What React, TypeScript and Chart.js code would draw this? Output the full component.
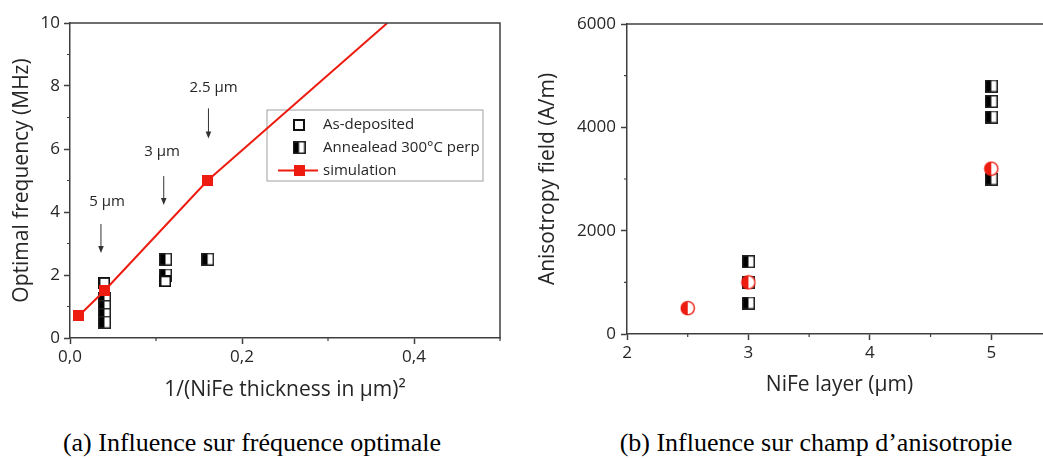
import React, { useEffect, useRef } from 'react';
import { Chart, registerables } from 'chart.js';
Chart.register(...registerables);

// ---------- Left chart data: optimal frequency vs 1/(thickness)^2 ----------
const simX = [0.01, 0.04, 0.16, 0.369];
const simY = [0.7, 1.5, 5.0, 10];
const simMarker = [true, true, true, false];
const asDepX = [0.04, 0.111];
const asDepY = [1.75, 1.8];
const annealX = [0.04, 0.04, 0.04, 0.04, 0.111, 0.111, 0.16];
const annealY = [1.25, 1.0, 0.75, 0.5, 2.5, 2.0, 2.5];
const leftXTicks = [0, 0.2, 0.4];
const leftXMinor = [0.1, 0.3, 0.5];
const leftYTicks = [0, 2, 4, 6, 8, 10];
const leftYMinor = [1, 3, 5, 7, 9];
const thicknessLabels = ['5 µm', '3 µm', '2.5 µm'];
const labelX = [0.043, 0.107, 0.167];
const labelY = [4.32, 5.9, 7.95];
const arrowX = [0.036, 0.109, 0.161];
const arrowTopY = [3.62, 5.14, 7.29];
const arrowBottomY = [2.7, 4.22, 6.33];
const legendLabels = ['As-deposited', 'Annealead 300°C perp', 'simulation'];

// ---------- Right chart data: anisotropy field vs NiFe layer ----------
const layerMeas = [3, 3, 3, 5, 5, 5, 5];
const fieldMeas = [1400, 1000, 600, 4800, 4500, 4200, 3000];
const layerSim = [2.5, 3, 5];
const fieldSim = [500, 1000, 3200];
const rightXTicks = [2, 3, 4, 5];
const rightXMinor = [2.5, 3.5, 4.5, 5.5];
const rightYTicks = [0, 2000, 4000, 6000];
const rightYMinor = [1000, 3000, 5000];

const RED = '#ee1c10';
const AXIS = '#3f3f3f';
const TEXT = '#262626';
const FONT = "'Open Sans', 'DejaVu Sans', sans-serif";

function makeCanvas(w: number, h: number, draw: (ctx: CanvasRenderingContext2D) => void) {
  const c = document.createElement('canvas');
  c.width = w;
  c.height = h;
  const ctx = c.getContext('2d')!;
  draw(ctx);
  return c;
}

function makeMarkers() {
  const hollowSq = makeCanvas(12, 12, (ctx) => {
    ctx.fillStyle = '#fff';
    ctx.fillRect(0, 0, 12, 12);
    ctx.strokeStyle = '#111';
    ctx.lineWidth = 2;
    ctx.strokeRect(1, 1, 10, 10);
  });
  const halfSq = makeCanvas(13, 13, (ctx) => {
    ctx.fillStyle = '#fff';
    ctx.fillRect(0, 0, 13, 13);
    ctx.fillStyle = '#000';
    ctx.fillRect(0, 0, 6.5, 13);
    ctx.strokeStyle = '#222';
    ctx.lineWidth = 1.5;
    ctx.strokeRect(0.75, 0.75, 11.5, 11.5);
  });
  const redSq = makeCanvas(11, 11, (ctx) => {
    ctx.fillStyle = RED;
    ctx.fillRect(0, 0, 11, 11);
  });
  const redHalfCircle = makeCanvas(16, 16, (ctx) => {
    const c = 8, r = 6.6;
    ctx.fillStyle = '#fff';
    ctx.beginPath();
    ctx.arc(c, c, r, 0, Math.PI * 2);
    ctx.fill();
    ctx.fillStyle = RED;
    ctx.beginPath();
    ctx.arc(c, c, r, Math.PI / 2, Math.PI * 1.5);
    ctx.closePath();
    ctx.fill();
    ctx.strokeStyle = RED;
    ctx.lineWidth = 1.4;
    ctx.beginPath();
    ctx.arc(c, c, r, 0, Math.PI * 2);
    ctx.stroke();
  });
  return { hollowSq, halfSq, redSq, redHalfCircle };
}

function minorTicksPlugin(xMinor: number[], yMinor: number[], drawRight: boolean) {
  return {
    id: 'frameAndMinor',
    afterDraw(chart: any) {
      const { ctx, chartArea: a, scales } = chart;
      ctx.save();
      ctx.strokeStyle = AXIS;
      ctx.lineWidth = 1.5;
      ctx.beginPath();
      ctx.moveTo(a.left, a.top);
      ctx.lineTo(a.right, a.top);
      if (drawRight) {
        ctx.lineTo(a.right, a.bottom);
      }
      ctx.stroke();
      ctx.lineWidth = 1.2;
      ctx.beginPath();
      xMinor.forEach((v) => {
        const px = scales.x.getPixelForValue(v);
        ctx.moveTo(px, a.bottom);
        ctx.lineTo(px, a.bottom + 3);
      });
      yMinor.forEach((v) => {
        const py = scales.y.getPixelForValue(v);
        ctx.moveTo(a.left, py);
        ctx.lineTo(a.left - 3, py);
      });
      ctx.stroke();
      ctx.restore();
    },
  };
}

function LeftChart({ markers }: { markers: any }) {
  const ref = useRef<HTMLCanvasElement | null>(null);
  useEffect(() => {
    if (!ref.current) return;
    const { hollowSq, halfSq, redSq } = markers;
    const annotPlugin = {
      id: 'annot',
      beforeDatasetsDraw(chart: any) {
        const { ctx, chartArea: a } = chart;
        ctx.save();
        ctx.strokeStyle = '#a0a0a0';
        ctx.lineWidth = 1;
        const lx = a.left + 197, ly = a.top + 87, lw = 216, lh = 71;
        ctx.strokeRect(lx, ly, lw, lh);
        ctx.font = `15px ${FONT}`;
        ctx.fillStyle = TEXT;
        ctx.textBaseline = 'middle';
        ctx.textAlign = 'left';
        const rows = [ly + 15, ly + 37.5, ly + 60.5];
        const mx = lx + 32;
        ctx.drawImage(hollowSq, mx - 6, rows[0] - 6);
        ctx.drawImage(halfSq, mx - 6.5, rows[1] - 6.5);
        ctx.strokeStyle = RED;
        ctx.lineWidth = 2;
        ctx.beginPath();
        ctx.moveTo(mx - 21, rows[2]);
        ctx.lineTo(mx + 19, rows[2]);
        ctx.stroke();
        ctx.drawImage(redSq, mx - 5.5, rows[2] - 5.5);
        legendLabels.forEach((t, i) => ctx.fillText(t, lx + 56, rows[i]));
        ctx.restore();
      },
      afterDatasetsDraw(chart: any) {
        const { ctx, scales } = chart;
        ctx.save();
        ctx.font = `15px ${FONT}`;
        ctx.textAlign = 'center';
        ctx.textBaseline = 'middle';
        thicknessLabels.forEach((t, i) => {
          ctx.fillStyle = TEXT;
          ctx.fillText(t, scales.x.getPixelForValue(labelX[i]), scales.y.getPixelForValue(labelY[i]));
          const ax = scales.x.getPixelForValue(arrowX[i]);
          const y0 = scales.y.getPixelForValue(arrowTopY[i]);
          const y1 = scales.y.getPixelForValue(arrowBottomY[i]);
          ctx.strokeStyle = '#333';
          ctx.lineWidth = 1;
          ctx.beginPath();
          ctx.moveTo(ax, y0);
          ctx.lineTo(ax, y1 - 4);
          ctx.stroke();
          ctx.fillStyle = '#333';
          ctx.beginPath();
          ctx.moveTo(ax - 2.8, y1 - 7);
          ctx.lineTo(ax + 2.8, y1 - 7);
          ctx.lineTo(ax, y1);
          ctx.closePath();
          ctx.fill();
        });
        ctx.restore();
      },
    };
    const chart = new Chart(ref.current, {
      type: 'scatter',
      data: {
        datasets: [
          {
            label: 'simulation',
            data: simX.map((x, i) => ({ x, y: simY[i] })),
            showLine: true,
            borderColor: RED,
            borderWidth: 2,
            pointStyle: redSq as any,
            pointRadius: simMarker.map((m) => (m ? 6 : 0)),
          },
          {
            label: 'As-deposited',
            data: asDepX.map((x, i) => ({ x, y: asDepY[i] })),
            pointStyle: hollowSq as any,
            pointRadius: 6,
          },
          {
            label: 'Annealead 300°C perp',
            data: annealX.map((x, i) => ({ x, y: annealY[i] })),
            pointStyle: halfSq as any,
            pointRadius: 6,
          },
        ],
      },
      options: {
        animation: false,
        responsive: false,
        layout: { padding: { left: 0, top: 23, right: 20, bottom: 0 } },
        plugins: { legend: { display: false }, tooltip: { enabled: false } },
        scales: {
          x: {
            type: 'linear',
            min: 0,
            max: 0.5,
            afterBuildTicks: (s: any) => {
              s.ticks = leftXTicks.map((v) => ({ value: v }));
            },
            afterFit: (s: any) => {
              s.height = 72;
            },
            ticks: {
              color: TEXT,
              font: { family: FONT, size: 17 },
              padding: 3,
              maxRotation: 0,
              callback: (v: any) => Number(v).toFixed(1).replace('.', ','),
            },
            grid: { drawOnChartArea: false, drawTicks: true, tickLength: 6, tickColor: AXIS, tickWidth: 1.5 },
            border: { display: true, color: AXIS, width: 1.5 },
            title: {
              display: true,
              text: '1/(NiFe thickness in µm)²',
              color: TEXT,
              font: { family: FONT, size: 21 },
              padding: { top: 0, bottom: 7 },
            },
          },
          y: {
            type: 'linear',
            min: 0,
            max: 10,
            afterBuildTicks: (s: any) => {
              s.ticks = leftYTicks.map((v) => ({ value: v }));
            },
            afterFit: (s: any) => {
              s.width = 70;
            },
            ticks: { color: TEXT, font: { family: FONT, size: 17 }, padding: 4 },
            grid: { drawOnChartArea: false, drawTicks: true, tickLength: 6, tickColor: AXIS, tickWidth: 1.5 },
            border: { display: true, color: AXIS, width: 1.5 },
            title: {
              display: true,
              text: 'Optimal frequency (MHz)',
              color: TEXT,
              font: { family: FONT, size: 21 },
              padding: { top: 9, bottom: 0 },
            },
          },
        },
      },
      plugins: [annotPlugin, minorTicksPlugin(leftXMinor, leftYMinor, true)],
    } as any);
    return () => chart.destroy();
  }, [markers]);
  return (
    <canvas
      ref={ref}
      width={520}
      height={410}
      style={{ position: 'absolute', left: 0, top: 0, width: 520, height: 410 }}
    />
  );
}

function RightChart({ markers }: { markers: any }) {
  const ref = useRef<HTMLCanvasElement | null>(null);
  useEffect(() => {
    if (!ref.current) return;
    const { halfSq, redHalfCircle } = markers;
    const chart = new Chart(ref.current, {
      type: 'scatter',
      data: {
        datasets: [
          {
            label: 'simulation',
            data: layerSim.map((x, i) => ({ x, y: fieldSim[i] })),
            pointStyle: redHalfCircle as any,
            pointRadius: 7,
          },
          {
            label: 'measured',
            data: layerMeas.map((x, i) => ({ x, y: fieldMeas[i] })),
            pointStyle: halfSq as any,
            pointRadius: 6,
          },
        ],
      },
      options: {
        animation: false,
        responsive: false,
        layout: { padding: { left: 0, top: 24, right: 6, bottom: 0 } },
        plugins: { legend: { display: false }, tooltip: { enabled: false } },
        scales: {
          x: {
            type: 'linear',
            min: 2,
            max: 5.5,
            afterBuildTicks: (s: any) => {
              s.ticks = rightXTicks.map((v) => ({ value: v }));
            },
            afterFit: (s: any) => {
              s.height = 76;
            },
            ticks: { color: TEXT, font: { family: FONT, size: 17 }, padding: 3, maxRotation: 0 },
            grid: { drawOnChartArea: false, drawTicks: true, tickLength: 6, tickColor: AXIS, tickWidth: 1.5 },
            border: { display: true, color: AXIS, width: 1.5 },
            title: {
              display: true,
              text: 'NiFe layer (µm)',
              color: TEXT,
              font: { family: FONT, size: 21 },
              padding: { top: 0, bottom: 12 },
            },
          },
          y: {
            type: 'linear',
            min: 0,
            max: 6000,
            afterBuildTicks: (s: any) => {
              s.ticks = rightYTicks.map((v) => ({ value: v }));
            },
            afterFit: (s: any) => {
              s.width = 107;
            },
            ticks: { color: TEXT, font: { family: FONT, size: 17 }, padding: 5, callback: (v: any) => String(v) },
            grid: { drawOnChartArea: false, drawTicks: true, tickLength: 6, tickColor: AXIS, tickWidth: 1.5 },
            border: { display: true, color: AXIS, width: 1.5 },
            title: {
              display: true,
              text: 'Anisotropy field (A/m)',
              color: TEXT,
              font: { family: FONT, size: 21 },
              padding: { top: 15, bottom: 0 },
            },
          },
        },
      },
      plugins: [minorTicksPlugin(rightXMinor, rightYMinor, false)],
    } as any);
    return () => chart.destroy();
  }, [markers]);
  return (
    <canvas
      ref={ref}
      width={540}
      height={410}
      style={{ position: 'absolute', left: 520, top: 0, width: 540, height: 410 }}
    />
  );
}

export default function App() {
  const markers = React.useMemo(() => makeMarkers(), []);
  const caption: React.CSSProperties = {
    position: 'absolute',
    top: 430,
    fontFamily: "'Liberation Serif', 'DejaVu Serif', serif",
    fontSize: 26,
    lineHeight: '26px',
    color: '#000',
    whiteSpace: 'nowrap',
    transform: 'translateX(-50%)',
  };
  return (
    <div
      style={{
        position: 'fixed',
        left: 0,
        top: 0,
        width: 1043,
        height: 459,
        overflow: 'hidden',
        background: '#fff',
      }}
    >
      <LeftChart markers={markers} />
      <RightChart markers={markers} />
      <div style={{ ...caption, left: 252 }}>(a) Influence sur fréquence optimale</div>
      <div style={{ ...caption, left: 816 }}>(b) Influence sur champ d’anisotropie</div>
    </div>
  );
}
